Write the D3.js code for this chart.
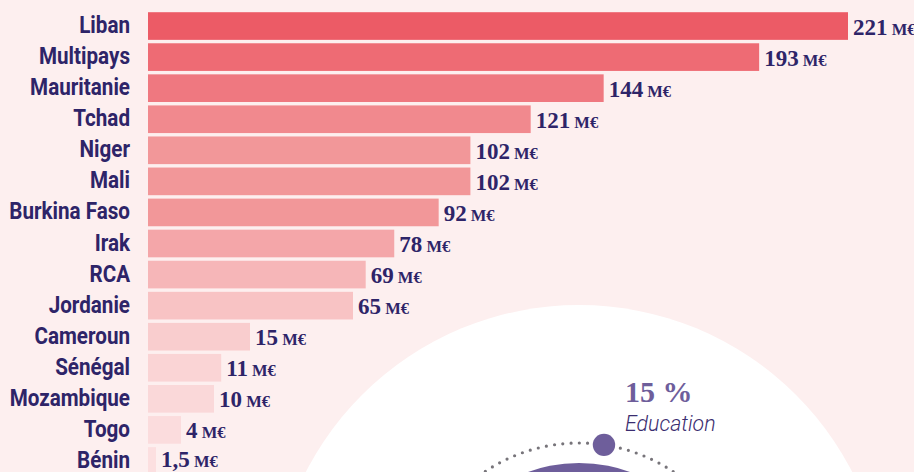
<!DOCTYPE html>
<html><head><meta charset="utf-8">
<script src="https://cdn.jsdelivr.net/npm/d3@7"></script>
<style>
html,body{margin:0;padding:0;background:#fdefef;}
svg{display:block;}
</style></head>
<body>
<svg id="chart" width="914" height="472"></svg>
<script>
const categories = ["Liban","Multipays","Mauritanie","Tchad","Niger","Mali","Burkina Faso","Irak","RCA","Jordanie","Cameroun","Sénégal","Mozambique","Togo","Bénin"];
const values = [221,193,144,121,102,102,92,78,69,65,15,11,10,4,1.5];
const unitLabel = "M€";
const sectorShare = [15];
const sectorLabel = ["Education"];

const barColors = ["#ec5b66","#ee6b74","#ef7880","#f1898e","#f29799","#f29799","#f29799","#f4a6a9","#f6b6b8","#f8c3c4","#f9cdce","#fad4d5","#fad8d9","#fbdcdd","#fcdfe0"];

const svg = d3.select("#chart");
const W = 914, H = 472;
svg.append("rect").attr("width",W).attr("height",H).attr("fill","#fdefef");

// decorative circle (donut area)
const cx = 579, cy = 612;
svg.append("circle").attr("cx",cx).attr("cy",cy).attr("r",307).attr("fill","#ffffff");
svg.append("circle").attr("cx",cx).attr("cy",cy).attr("r",149).attr("fill","#6e5e9b");
const ringR = 169;
const circ = 2*Math.PI*ringR;
const nDots = 128;
svg.append("circle").attr("cx",cx).attr("cy",cy).attr("r",ringR)
  .attr("fill","none").attr("stroke","#77747a").attr("stroke-width",3.2)
  .attr("stroke-linecap","round").attr("stroke-dasharray",`0 ${circ/nDots}`);
const dotAng = 8.5*Math.PI/180;
svg.append("circle").attr("cx",cx+ringR*Math.sin(dotAng)).attr("cy",cy-ringR*Math.cos(dotAng))
  .attr("r",11.2).attr("fill","#6e5e9b");

svg.append("text").attr("x",625).attr("y",402)
  .attr("font-family","'Liberation Serif',serif").attr("font-weight",700).attr("font-size",30)
  .attr("fill","#6e5e9b").text(`${sectorShare[0]} %`);
svg.append("g").attr("transform","translate(625,431) scale(0.95,1)")
  .append("text").attr("x",0).attr("y",0)
  .attr("font-family","Roboto,sans-serif").attr("font-style","italic").attr("font-weight",300).attr("font-size",22.5)
  .attr("fill","#3a2d70").text(sectorLabel[0]);

// bars
const x0 = 148;
const x = d3.scaleLinear()
  .domain([0,1.5,4,10,15,65,221])
  .range([x0, x0+8, x0+33, x0+66, x0+102, x0+205, x0+700]);
const y = d3.scaleBand().domain(categories).range([10.5,476.5]).paddingInner(0.11).paddingOuter(0.055);

const data = categories.map((c,i)=>({c, v: values[i], col: barColors[i]}));

svg.append("g").selectAll("rect").data(data).join("rect")
  .attr("x", x(0)).attr("y", d=>y(d.c))
  .attr("width", d=>x(d.v)-x(0)).attr("height", y.bandwidth())
  .attr("fill", d=>d.col);

// category labels
svg.append("g").selectAll("g").data(data).join("g")
  .attr("transform", d=>`translate(130,${y(d.c)+y.bandwidth()/2+7}) scale(0.86,1)`)
  .append("text").attr("text-anchor","end")
  .attr("font-family","Roboto,sans-serif").attr("font-weight",700).attr("font-size",24)
  .attr("fill","#2e2468").text(d=>d.c);

// value labels
const fmt = v => String(v).replace(".", ",");
const vt = svg.append("g").selectAll("text").data(data).join("text")
  .attr("x", d=>x(d.v)+5).attr("y", d=>Math.min(y(d.c)+y.bandwidth()/2+8.5, 467))
  .attr("font-family","'Liberation Serif',serif").attr("font-weight",700)
  .attr("fill","#2e2468");
vt.append("tspan").attr("font-size",23).text(d=>fmt(d.v));
vt.append("tspan").attr("font-size",16.5).text(" "+unitLabel);
</script>
</body></html>
